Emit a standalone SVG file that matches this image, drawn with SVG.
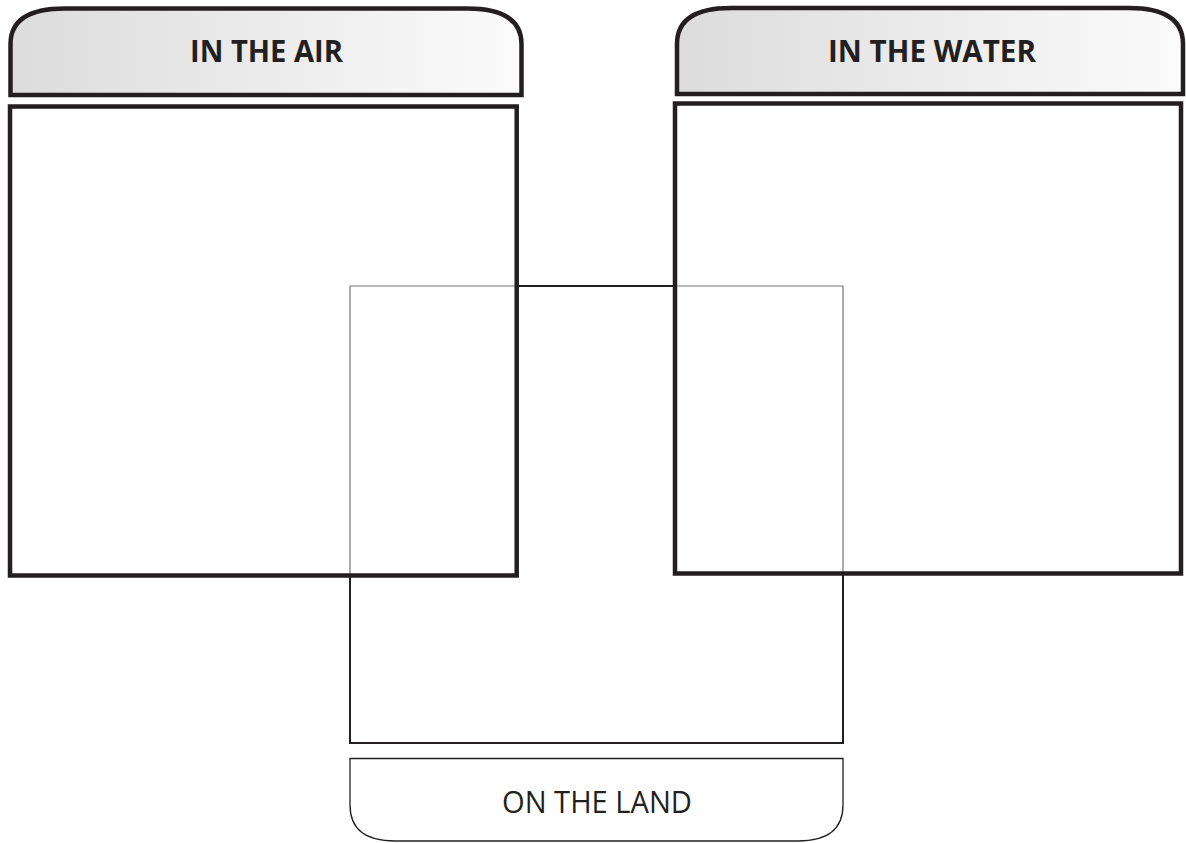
<svg xmlns="http://www.w3.org/2000/svg" width="1186" height="843" viewBox="0 0 1186 843">
<defs>
<linearGradient id="hdr" x1="0" y1="0" x2="1" y2="0">
<stop offset="0" stop-color="#dcdcdc"/>
<stop offset="1" stop-color="#fbfbfb"/>
</linearGradient>
<style>
.hdr{fill:url(#hdr);stroke:#231f20;stroke-width:4.5}
.box{fill:none;stroke:#231f20;stroke-width:4.5}
.dark{fill:none;stroke:#231f20;stroke-width:2}
.thin{fill:none;stroke:#777777;stroke-width:1.2}
.lbl{fill:#231f20;font-family:"Open Sans","DejaVu Sans",sans-serif;font-size:31px;text-anchor:middle}
</style>
</defs>
<rect width="1186" height="843" fill="#ffffff"/>
<g id="land">
<path class="thin" d="M350 575 V286 H517 M675 286 H843 V573"/>
<path class="dark" d="M517 286 H675 M350 575 V743 H843 V573"/>
</g>
<g id="land-label">
<path d="M350 758.5 H843 V805 Q843 841 798 841 H395 Q350 841 350 805 Z" fill="#ffffff" stroke="#231f20" stroke-width="1.3"/>
<text class="lbl" x="597" y="813" textLength="190" lengthAdjust="spacingAndGlyphs">ON THE LAND</text>
</g>
<g id="air">
<path class="hdr" d="M10.5 95 V44 Q10.5 8.5 65 8.5 H467 Q521.5 8.5 521.5 44 V95 Z"/>
<text class="lbl" x="266.5" y="62" font-weight="700" textLength="153" lengthAdjust="spacingAndGlyphs">IN THE AIR</text>
<rect class="box" x="10" y="106.5" width="506.7" height="469"/>
</g>
<g id="water">
<path class="hdr" d="M677 94 V44 Q677 8 731 8 H1129 Q1183 8 1183 44 V94 Z"/>
<text class="lbl" x="932" y="62" font-weight="700" textLength="208" lengthAdjust="spacingAndGlyphs">IN THE WATER</text>
<rect class="box" x="675" y="103.5" width="506" height="470"/>
</g>
<g id="connectors"></g>
</svg>
